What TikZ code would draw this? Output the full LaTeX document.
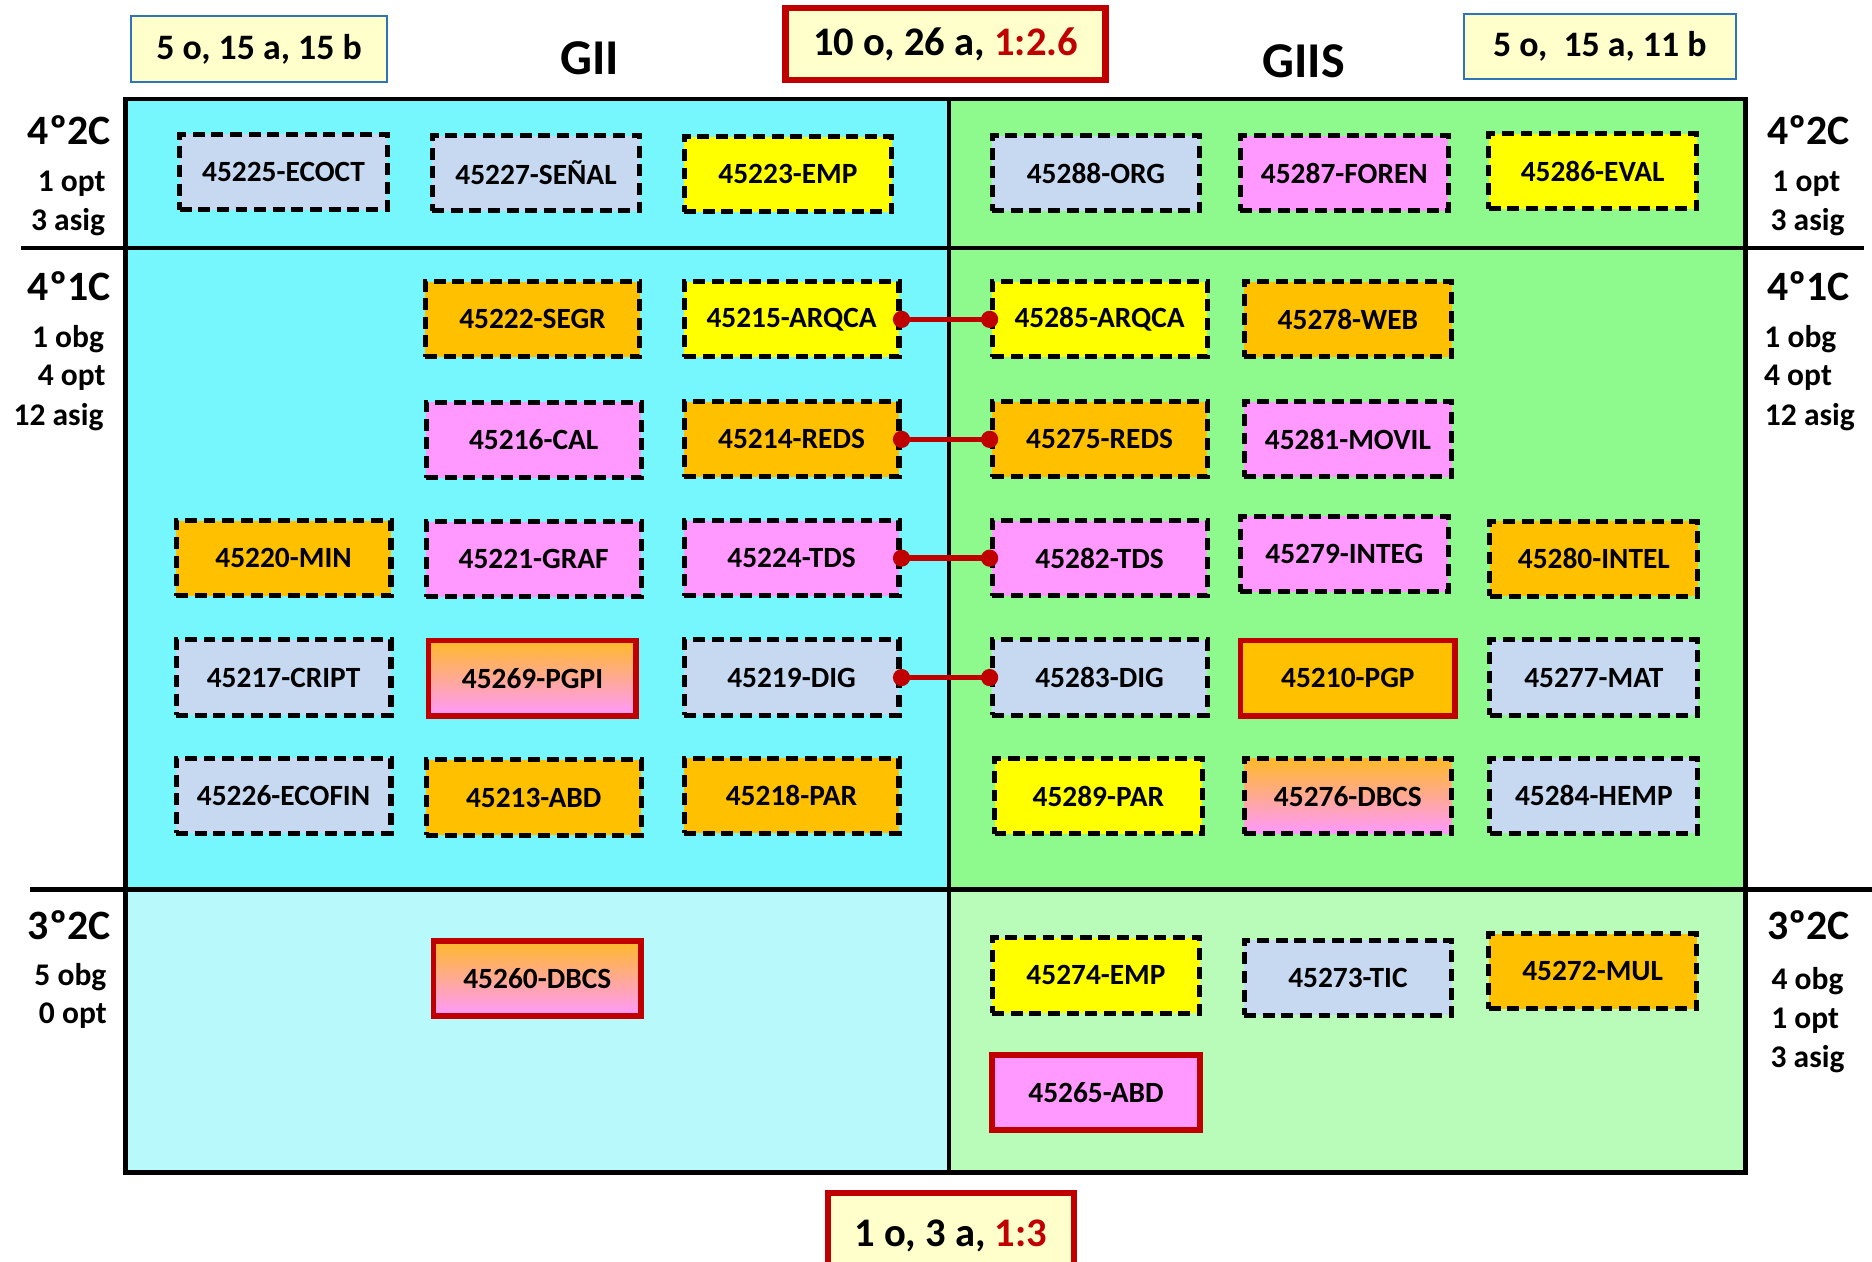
\documentclass[tikz,border=0pt]{standalone}
\usepackage{fontspec}
\setmainfont{Carlito}
\definecolor{cyanA}{RGB}{117,247,253}
\definecolor{cyanB}{RGB}{184,250,252}
\definecolor{greenA}{RGB}{142,250,142}
\definecolor{greenB}{RGB}{185,252,185}
\definecolor{lbC}{RGB}{198,217,241}
\definecolor{pkC}{RGB}{255,153,255}
\definecolor{ylC}{RGB}{255,255,0}
\definecolor{orC}{RGB}{255,192,0}
\definecolor{orG}{RGB}{255,185,40}
\definecolor{redC}{RGB}{192,0,0}
\definecolor{paleY}{RGB}{255,255,204}
\definecolor{blueB}{RGB}{46,117,182}
\begin{document}
\begin{tikzpicture}[x=0.5pt,y=-0.5pt,
  course/.style={draw=black, line width=2.1pt, dash pattern=on 5pt off 2.8pt,
    minimum width=87pt, minimum height=31.5pt, inner sep=0pt,
    font=\bfseries\fontsize{12.3}{14}\selectfont},
  wide/.style={minimum width=90pt},
  keyc/.style={draw=redC, line width=2.4pt, solid},
  cLB/.style={fill=lbC}, cPK/.style={fill=pkC}, cYL/.style={fill=ylC},
  cOR/.style={fill=orC}, cGR/.style={top color=orG, bottom color=pkC},
  conn/.style={draw=redC, line width=2.3pt},
  frame/.style={line width=1.8pt},
  big/.style={font=\bfseries\fontsize{17.5}{20}\selectfont, inner sep=0pt},
  small/.style={font=\bfseries\fontsize{13.2}{15}\selectfont, inner sep=0pt},
  title/.style={font=\bfseries\fontsize{21}{24}\selectfont, inner sep=0pt},
  sumbox/.style={fill=paleY, draw=blueB, line width=0.9pt, inner sep=0pt,
    font=\bfseries\fontsize{15}{18}\selectfont},
  totbox/.style={fill=paleY, draw=redC, line width=2.6pt, inner sep=0pt,
    font=\bfseries\fontsize{17}{20}\selectfont}
]
\useasboundingbox (0,0) rectangle (1568,1057);
\clip (0,0) rectangle (1568,1057);
% backgrounds
\fill[cyanA] (105,83) rectangle (795,745);
\fill[cyanB] (105,745) rectangle (795,982);
\fill[greenA] (795,83) rectangle (1462,745);
\fill[greenB] (795,745) rectangle (1462,982);
\draw[frame] (105,83) rectangle (1462,982);
\draw[frame] (795,83) -- (795,982);
\draw[frame] (18,208) -- (1561,208);
\draw[frame] (25,745) -- (1568,745);

% header boxes
\node[sumbox, minimum width=107pt, minimum height=27.5pt] (sumL) at (217,41) {5 o, 15 a, 15 b};
\node[totbox, minimum width=134pt, minimum height=30pt] (totT) at (792,37) {10 o, 26 a, \textcolor{redC}{1:2.6}};
\node[sumbox, minimum width=114pt, minimum height=27pt] (sumR) at (1340,39) {5 o,\ \ 15 a, 11 b};
\node[title] (gii) at (494,49) {GII};
\node[title] (giis) at (1092,51) {GIIS};
\node[totbox, minimum width=103pt, minimum height=36pt] (totB) at (796.5,1035) {\raisebox{2pt}{1 o, 3 a, \textcolor{redC}{1:3}}};

% left labels
\node[big] (l42) at (58,109) {4º2C};
\node[small] (l42a) at (60,154) {1 opt};
\node[small] (l42b) at (57,186) {3 asig};
\node[big] (l41) at (58,240) {4º1C};
\node[small] (l41a) at (57,284) {1 obg};
\node[small] (l41b) at (60,316) {4 opt};
\node[small] (l41c) at (49,349) {12 asig};
\node[big] (l32) at (58,775) {3º2C};
\node[small] (l32a) at (59,818) {5 obg};
\node[small] (l32b) at (61,851) {0 opt};
% right labels
\node[big] (r42) at (1515,109) {4º2C};
\node[small] (r42a) at (1513,154) {1 opt};
\node[small] (r42b) at (1514,186) {3 asig};
\node[big] (r41) at (1515,240) {4º1C};
\node[small] (r41a) at (1508,284) {1 obg};
\node[small] (r41b) at (1506,316) {4 opt};
\node[small] (r41c) at (1516,349) {12 asig};
\node[big] (r32) at (1515,775) {3º2C};
\node[small] (r32a) at (1514,822) {4 obg};
\node[small] (r32b) at (1512,855) {1 opt};
\node[small] (r32c) at (1514,887) {3 asig};

% 4º2C
\node[course,cLB] (ecoct) at (237.5,144) {45225-ECOCT};
\node[course,cLB] (senal) at (449,145) {45227-SEÑAL};
\node[course,cYL] (emp) at (660,146) {45223-EMP};
\node[course,cLB] (org) at (918,145) {45288-ORG};
\node[course,cPK] (foren) at (1126,145) {45287-FOREN};
\node[course,cYL] (eval) at (1334,143.5) {45286-EVAL};
% 4º1C row 1
\node[course,wide,cOR] (segr) at (446,267.5) {45222-SEGR};
\node[course,wide,cYL] (arqca) at (663,267.5) {45215-ARQCA};
\node[course,wide,cYL] (arqcas) at (921,267.5) {45285-ARQCA};
\node[course,cOR] (web) at (1129,267.5) {45278-WEB};
% row 2
\node[course,wide,cPK] (cal) at (447,368.5) {45216-CAL};
\node[course,wide,cOR] (reds) at (663,368) {45214-REDS};
\node[course,wide,cOR] (redss) at (921,368) {45275-REDS};
\node[course,cPK] (movil) at (1129,368) {45281-MOVIL};
% row 3
\node[course,wide,cOR] (min) at (237.5,467.5) {45220-MIN};
\node[course,wide,cPK] (graf) at (447,468.5) {45221-GRAF};
\node[course,wide,cPK] (tds) at (663,467.5) {45224-TDS};
\node[course,wide,cPK] (tdss) at (921,467.5) {45282-TDS};
\node[course,cPK] (integ) at (1126,464) {45279-INTEG};
\node[course,cOR] (intel) at (1335,468) {45280-INTEL};
% row 4
\node[course,wide,cLB] (cript) at (237.5,567.5) {45217-CRIPT};
\node[course,keyc,cGR] (pgpi) at (446,568) {45269-PGPI};
\node[course,wide,cLB] (dig) at (663,567.5) {45219-DIG};
\node[course,wide,cLB] (digs) at (921,567.5) {45283-DIG};
\node[course,wide,keyc,cOR] (pgp) at (1129,568) {45210-PGP};
\node[course,cLB] (mat) at (1335,567.5) {45277-MAT};
% row 5
\node[course,wide,cLB] (ecofin) at (237.5,666.5) {45226-ECOFIN};
\node[course,wide,cOR] (abd) at (447,668) {45213-ABD};
\node[course,wide,cOR] (par) at (663,666.5) {45218-PAR};
\node[course,cYL] (pars) at (920,667) {45289-PAR};
\node[course,cGR] (dbcs) at (1129,667) {45276-DBCS};
\node[course,cLB] (hemp) at (1335,666.5) {45284-HEMP};
% 3º2C
\node[course,keyc,cGR] (dbcsg) at (450,819.5) {45260-DBCS};
\node[course,cYL] (emps) at (918,817) {45274-EMP};
\node[course,cLB] (tic) at (1129,819) {45273-TIC};
\node[course,cOR] (mul) at (1334,813.5) {45272-MUL};
\node[course,keyc,cPK] (abds) at (918,915) {45265-ABD};

% connectors
\foreach \a/\b in {arqca/arqcas, reds/redss, tds/tdss, dig/digs}{
  \draw[conn] (\a.east) -- (\b.west);
  \fill[redC] (\a.east) circle (3.6pt);
  \fill[redC] (\b.west) circle (3.6pt);
}
\end{tikzpicture}
\end{document}
